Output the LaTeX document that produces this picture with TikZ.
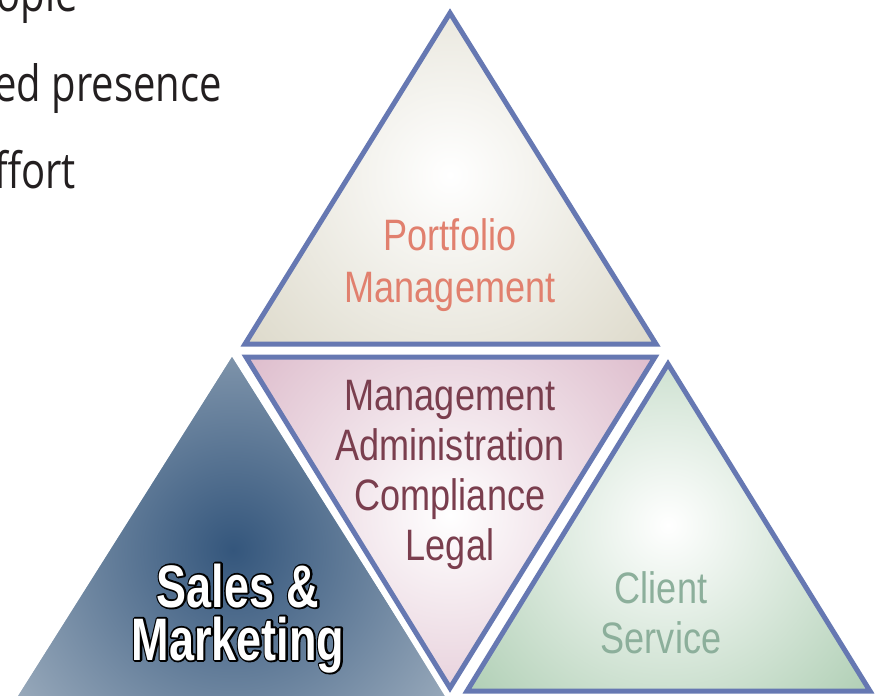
\documentclass[tikz,border=0pt]{standalone}
\usepackage{fontspec}
\newfontfamily\narrowsans[FakeStretch=0.82]{Liberation Sans}
\newfontfamily\boldnarrow[FakeStretch=0.75]{Liberation Sans}
\newfontfamily\bulletfont[FakeStretch=0.8]{Open Sans}
\definecolor{rimblue}{RGB}{102,120,178}
\definecolor{sandedge}{RGB}{214,210,192}
\definecolor{pinkedge}{RGB}{212,170,190}
\definecolor{mintedge}{RGB}{158,196,164}
\definecolor{slatecore}{RGB}{52,86,124}
\definecolor{slateedge}{RGB}{170,184,198}
\definecolor{salmon}{RGB}{225,128,110}
\definecolor{wine}{RGB}{122,62,78}
\definecolor{sage}{RGB}{140,175,155}
\definecolor{inkgray}{RGB}{35,31,32}

% white letters on a black stroked copy (render mode 1 behind, plain fill on top)
\newcommand{\outlined}[1]{\rlap{\special{pdf:code 1 Tr 3.6 w 1 j 0 0 0 RG}#1\special{pdf:code 0 Tr 1 w 0 j}}#1}

\tikzset{
  halo/.style={draw=white,line width=17pt},
  rim/.style={draw=rimblue,line width=5pt},
  lbl/.style={inner sep=0pt,anchor=base,font=\narrowsans\fontsize{44pt}{50pt}\selectfont},
  saleslbl/.style={inner sep=0pt,anchor=base,text=white,font=\boldnarrow\bfseries\fontsize{60pt}{66pt}\selectfont},
  bullet/.style={inner sep=0pt,anchor=base east,text=inkgray,font=\bulletfont\fontsize{50pt}{60pt}\selectfont}
}

\begin{document}
\begin{tikzpicture}[x=1pt,y=-1pt,line join=miter]
\useasboundingbox (0,0) rectangle (879,696);
\clip (0,0) rectangle (879,696);

% ============ text running off the left margin ============
\node[bullet] (b1) at (78,12) {ople};
\node[bullet] (b2) at (222,101) {ed presence};
\node[bullet] (b3) at (76,188) {ffort};

% corners of the four triangles
\coordinate (pt) at (450,13);  \coordinate (pl) at (245,344); \coordinate (pr) at (656,344);
\coordinate (ml) at (246,357); \coordinate (mr) at (655,357); \coordinate (mb) at (450,688);
\coordinate (ct) at (668,364); \coordinate (cl) at (467,691); \coordinate (cr) at (870,691);
\coordinate (st) at (232,357); \coordinate (sl) at (8,712);   \coordinate (sr) at (456,712);

% ============ Sales & Marketing (no rim) ============
\begin{scope}
\clip (st) -- (sl) -- (sr) -- cycle;
\fill[slateedge] (0,340) rectangle (470,712);
\shade[inner color=slatecore,outer color=slateedge] (233,550) circle (310pt);
\end{scope}

% white gaps round the rimmed triangles
\draw[halo] (pt) -- (pl) -- (pr) -- cycle;
\draw[halo] (ml) -- (mr) -- (mb) -- cycle;
\draw[halo] (ct) -- (cl) -- (cr) -- cycle;

% ============ Portfolio Management ============
\begin{scope}
\clip (pt) -- (pl) -- (pr) -- cycle;
\fill[sandedge] (230,0) rectangle (670,350);
\shade[inner color=white,outer color=sandedge] (450,175) circle (320pt);
\end{scope}
\draw[rim] (pt) -- (pl) -- (pr) -- cycle;

% ============ centre, upside down ============
\begin{scope}
\clip (ml) -- (mr) -- (mb) -- cycle;
\fill[pinkedge] (230,350) rectangle (670,696);
\shade[inner color=white,outer color=pinkedge] (450,515) circle (330pt);
\end{scope}
\draw[rim] (ml) -- (mr) -- (mb) -- cycle;

% ============ Client Service ============
\begin{scope}
\clip (ct) -- (cl) -- (cr) -- cycle;
\fill[mintedge] (460,355) rectangle (879,696);
\shade[inner color=white,outer color=mintedge] (668,525) circle (320pt);
\end{scope}
\draw[rim] (ct) -- (cl) -- (cr) -- cycle;

% labels
\node[lbl,text=salmon] (pm1) at (450,250) {Portfolio};
\node[lbl,text=salmon] (pm2) at (450,302) {Management};
\foreach \txt/\y in {Management/410,Administration/460,Compliance/510,Legal/560}{
  \node[lbl,text=wine] (mid\y) at (450,\y) {\txt};
}
\node[lbl,text=sage] (cs1) at (661,603) {Client};
\node[lbl,text=sage] (cs2) at (661,653) {Service};

\node[saleslbl] (sales) at (238,607) {\outlined{Sales \&}};
\node[saleslbl] (mkt) at (238,660) {\outlined{Marketing}};

\end{tikzpicture}
\end{document}
